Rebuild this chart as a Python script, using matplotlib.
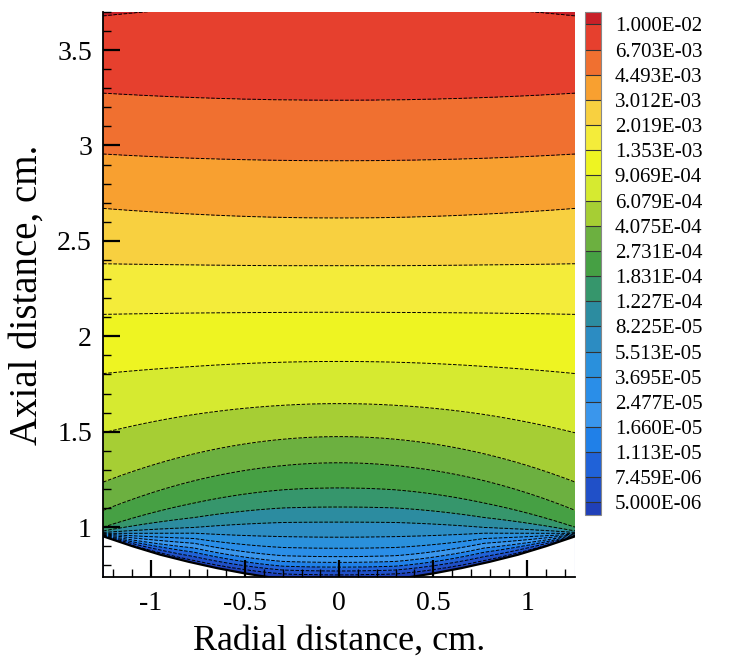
import numpy as np
import matplotlib
matplotlib.use("Agg")
import matplotlib.pyplot as plt
from matplotlib.ticker import MultipleLocator, FuncFormatter

plt.rcParams['font.family'] = ['Liberation Serif', 'DejaVu Serif']
plt.rcParams['axes.unicode_minus'] = False

# contour levels shown in the legend
levels = [5.000e-06, 7.459e-06, 1.113e-05, 1.660e-05, 2.477e-05, 3.695e-05,
          5.513e-05, 8.225e-05, 1.227e-04, 1.831e-04, 2.731e-04, 4.075e-04,
          6.079e-04, 9.069e-04, 1.353e-03, 2.019e-03, 3.012e-03, 4.493e-03,
          6.703e-03, 1.000e-02]

# band colours, lowest (below 5e-6) to highest (above 1e-2)
band_colors = ['#2040b8', '#2050c8', '#2062d8', '#2080e8', '#3a96ec', '#2a8ee8',
               '#2a90dc', '#2c8cc2', '#2c8ca0', '#36966c', '#46a044', '#6cb040',
               '#a6ce34', '#d6ea30', '#eef422', '#f4ec3a', '#f8d040', '#f8a030',
               '#f07030', '#e6402e', '#c82028']

# height (cm) of each contour level at a few radial stations |r|
station_r = [0.0, 0.3, 0.77, 1.25]
y_r000 = [0.750, 0.770, 0.790, 0.815, 0.845, 0.889, 0.947, 1.026, 1.105, 1.205,
          1.337, 1.474, 1.647, 1.868, 2.126, 2.370, 2.620, 2.920, 3.237, 3.760]
y_r030 = [0.755, 0.775, 0.795, 0.820, 0.850, 0.893, 0.950, 1.024, 1.100, 1.195,
          1.322, 1.460, 1.638, 1.864, 2.125, 2.370, 2.623, 2.922, 3.239, 3.757]
y_r077 = [0.825, 0.845, 0.868, 0.890, 0.915, 0.940, 0.968, 0.998, 1.050, 1.126,
          1.243, 1.384, 1.590, 1.842, 2.122, 2.374, 2.640, 2.933, 3.251, 3.720]
y_r125 = [0.951, 0.953, 0.955, 0.957, 0.960, 0.963, 0.967, 0.972, 0.980, 1.000,
          1.089, 1.237, 1.495, 1.805, 2.115, 2.380, 2.670, 2.955, 3.274, 3.680]

# lower wall of the domain
wall_r = [0.0, 0.2, 0.37, 0.5, 0.65, 0.8, 0.95, 1.1, 1.25]
wall_y = [0.715, 0.722, 0.737, 0.757, 0.785, 0.818, 0.855, 0.900, 0.950]

logl = np.log10(levels)
S = np.array([y_r000, y_r030, y_r077, y_r125])
r2 = np.square(station_r)

xs = np.linspace(-1.255, 1.255, 503)
ys = np.linspace(0.68, 3.72, 900)
X, Y = np.meshgrid(xs, ys)
Z = np.empty_like(X)
for j, xv in enumerate(xs):
    ylev = np.array([np.interp(xv * xv, r2, S[:, i]) for i in range(len(levels))])
    yk = np.concatenate([[ylev[0] - 0.08], ylev, [ylev[-1] + 0.15]])
    zk = np.concatenate([[logl[0] - 0.3], logl, [logl[-1] + 0.15]])
    Z[:, j] = np.interp(ys, yk, zk)

fig = plt.figure(figsize=(7.31, 6.62), dpi=100)
ax = fig.add_axes([0.141, 0.128, 0.646, 0.854])

cf = ax.contourf(X, Y, Z, levels=logl, colors=band_colors, extend='both')
ax.contour(X, Y, Z, levels=logl, colors='k', linewidths=0.7)

wx = np.concatenate([-np.array(wall_r[::-1]), wall_r[1:]])
wy = np.concatenate([wall_y[::-1], wall_y[1:]])
ax.fill_between(wx, wy, 0.5, color='white', zorder=2)
ax.plot(wx, wy, color='k', lw=1.6, zorder=2.2)

ax.set_xlim(-1.255, 1.255)
ax.set_ylim(0.737, 3.70)
ax.set_axisbelow(False)
for s in ['top', 'right']:
    ax.spines[s].set_visible(False)
for s in ['left', 'bottom']:
    ax.spines[s].set_linewidth(1.3)

fmt = FuncFormatter(lambda v, p: '%g' % v)
ax.xaxis.set_major_locator(MultipleLocator(0.5))
ax.xaxis.set_minor_locator(MultipleLocator(0.1))
ax.yaxis.set_major_locator(MultipleLocator(0.5))
ax.yaxis.set_minor_locator(MultipleLocator(0.1))
ax.xaxis.set_major_formatter(fmt)
ax.yaxis.set_major_formatter(fmt)
ax.tick_params(which='major', direction='in', length=12, width=1.6, labelsize=20, pad=8)
ax.tick_params(which='minor', direction='in', length=6, width=1.0)
ax.tick_params(axis='x', which='major', pad=10)

ax.set_xlabel('Radial distance, cm.', fontsize=26, labelpad=6)
ax.set_ylabel('Axial distance, cm.', fontsize=28, labelpad=8)

cax = fig.add_axes([0.800, 0.222, 0.022, 0.760])
cb = fig.colorbar(cf, cax=cax, extendrect=True, extendfrac=0.5 / 19, drawedges=True)
cb.set_ticks(logl)
cb.set_ticklabels(['%.3E' % v for v in levels])
cb.ax.tick_params(length=0, labelsize=15, pad=10)
cb.outline.set_edgecolor('#888888')
cb.outline.set_linewidth(0.8)
cb.dividers.set_color('#333333')
cb.dividers.set_linewidth(0.8)

fig.savefig('out.png', dpi=100)
